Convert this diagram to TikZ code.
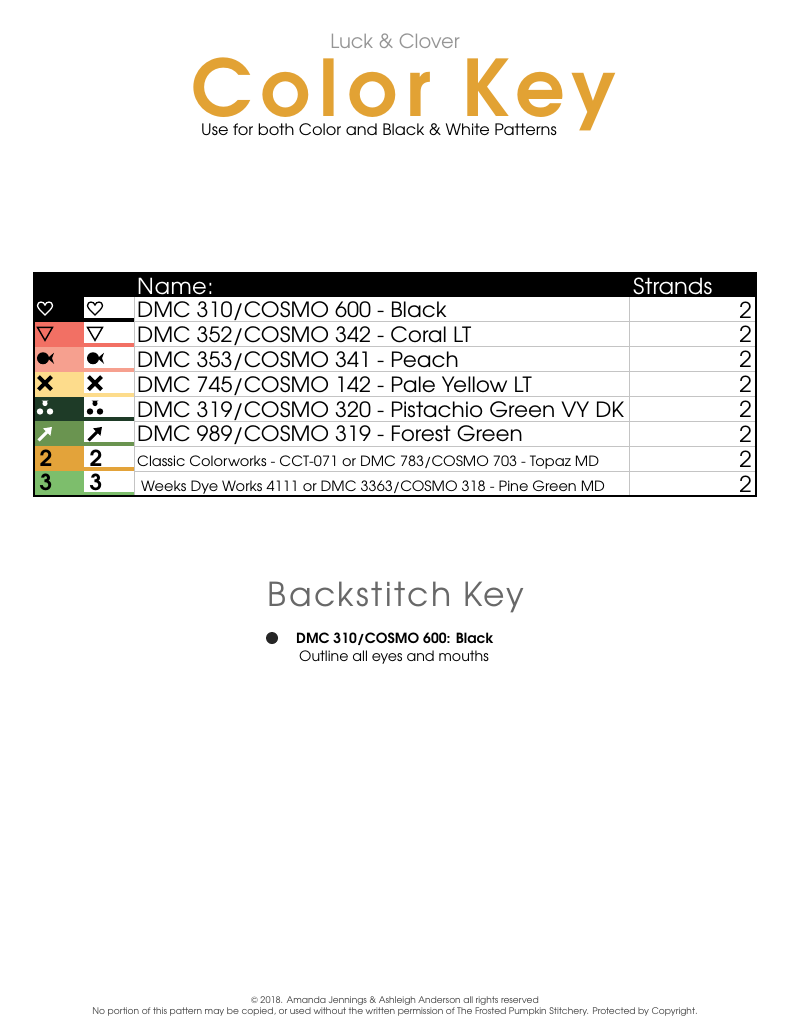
\documentclass[tikz,border=0pt]{standalone}
\usepackage{fontspec}
\setmainfont{TeX Gyre Adventor}
\newfontfamily\keyfont{TeX Gyre Adventor}[FakeStretch=1.03]
\usetikzlibrary{arrows.meta,positioning}
\definecolor{keygold}{HTML}{E2A234}
\definecolor{coral}{HTML}{F27064}
\definecolor{peach}{HTML}{F6A08F}
\definecolor{paleyellow}{HTML}{FDDC8C}
\definecolor{pistachio}{HTML}{1E3B27}
\definecolor{forest}{HTML}{6A9450}
\definecolor{topaz}{HTML}{E3A33A}
\definecolor{pine}{HTML}{7DBE6C}
\definecolor{gridgray}{HTML}{C4C4C4}
\definecolor{softgray}{HTML}{7A7A7A}
\tikzset{gridline/.style={gridgray,line width=0.8pt}}
\tikzset{nametext/.style={anchor=base west,inner sep=0pt,font=\keyfont\fontsize{21}{21}\selectfont}}
\tikzset{smalltext/.style={font=\keyfont\fontsize{14.1}{15}\selectfont}}
\tikzset{strandtext/.style={anchor=base east,inner sep=0pt,font=\keyfont\fontsize{22}{22}\selectfont}}
\tikzset{headtext/.style={anchor=base west,inner sep=0pt,text=white,font=\keyfont\fontsize{22}{22}\selectfont}}
\tikzset{digit/.style={inner sep=0pt,font=\keyfont\fontsize{22}{22}\bfseries\selectfont}}
% symbols: x, y, ink, name
\newcommand\symheart[4]{\draw[#3,line width=1.3pt,shift={(#1,#2)}]
  (0,6.5) .. controls (-4,2.5) and (-7.5,-0.5) .. (-7.5,-3) .. controls (-7.5,-7.5) and (-1,-7.5) .. (0,-3.5)
  .. controls (1,-7.5) and (7.5,-7.5) .. (7.5,-3) .. controls (7.5,-0.5) and (4,2.5) .. (0,6.5) -- cycle;}
\newcommand\symtri[4]{\draw[#3,line width=1.4pt,shift={(#1,#2)}] (-7.5,-6) -- (7.5,-6) -- (0,7) -- cycle;}
\newcommand\symfish[4]{\fill[#3,shift={(#1,#2)}] (-2,0) circle (6) (2.5,0) -- (9,-5.5) -- (7,0) -- (9,5.5) -- cycle;}
\newcommand\symcross[4]{\draw[#3,line width=4pt,shift={(#1,#2)}] (-6.5,-6.5) -- (6.5,6.5) (-6.5,6.5) -- (6.5,-6.5);}
\newcommand\symtrefoil[4]{\fill[#3,shift={(#1,#2)}] (0,-5) -- (-3.5,-7.5) -- (3.5,-7.5) -- cycle (0,-4.5) circle (2.6)
  (-5,3.5) circle (3.2) (5,3.5) circle (3.2);}
\newcommand\symarrow[4]{\draw[#3,line width=3pt,-{Triangle[length=7.5pt,width=10pt]},shift={(#1,#2)}] (-6.5,7.5) -- (7,-6);}
\newcommand\symtwo[4]{\node[digit,text=#3] (#4) at (#1+1,#2) {2};}
\newcommand\symthree[4]{\node[digit,text=#3] (#4) at (#1+1,#2) {3};}
% one row of the key: top, colour, symbol, col-1 ink, name, id, text style
\newcommand\keyrow[7]{
  \fill[#2] (34,#1) rectangle (84,#1+24.875);
  \fill[#2] (84,#1+20.9) rectangle (134,#1+24.875);
  \draw[gridline] (134,#1+24.875) -- (756,#1+24.875);
  #3{45}{#1+11.5}{#4}{swatch#6}
  #3{95}{#1+11.5}{black}{mark#6}
  \node[nametext,#7] (name#6) at (137,#1+20.5) {#5};
  \node[strandtext] (strands#6) at (752,#1+21) {2};
}

\begin{document}
\begin{tikzpicture}[x=1pt,y=-1pt]
  \useasboundingbox[fill=white] (0,0) rectangle (786,1024);
  % title
  \node[anchor=base,text=softgray!80,font=\fontsize{19.5}{19.5}\selectfont] (luck) at (395,49) {Luck \& Clover};
  \node[anchor=base,text=keygold,font=\fontsize{78}{78}\bfseries\selectfont\addfontfeatures{LetterSpace=11.5}] (title) at (404,117) {Color Key};
  \node[anchor=base,font=\keyfont\fontsize{15.7}{15.7}\selectfont] (usefor) at (379,136) {Use for both Color and Black \& White Patterns};
  % color key table
  \fill[black] (34,273) rectangle (756,297);
  \node[headtext,font=\keyfont\fontsize{22}{22}\selectfont\addfontfeatures{LetterSpace=2}] (namehead) at (137,294.5) {Name:};
  \node[headtext] (strandhead) at (633,294.5) {Strands};
  \keyrow{297}{black}{\symheart}{white}{DMC 310/COSMO 600 - Black}{1}{}
  \keyrow{321.875}{coral}{\symtri}{black}{DMC 352/COSMO 342 - Coral LT}{2}{}
  \keyrow{346.75}{peach}{\symfish}{black}{DMC 353/COSMO 341 - Peach}{3}{}
  \keyrow{371.625}{paleyellow}{\symcross}{black}{DMC 745/COSMO 142 - Pale Yellow LT}{4}{}
  \keyrow{396.5}{pistachio}{\symtrefoil}{white}{DMC 319/COSMO 320 - Pistachio Green VY DK}{5}{}
  \keyrow{421.375}{forest}{\symarrow}{white}{DMC 989/COSMO 319 - Forest Green}{6}{}
  \keyrow{446.25}{topaz}{\symtwo}{black}{Classic Colorworks - CCT-071 or DMC 783/COSMO 703 - Topaz MD}{7}{smalltext}
  \keyrow{471.125}{pine}{\symthree}{black}{\hspace{4pt}Weeks Dye Works 4111 or DMC 3363/COSMO 318 - Pine Green MD}{8}{smalltext}
  \draw[gridline] (134,297) -- (134,496) (629,297) -- (629,496);
  \draw[line width=2.5pt] (34,273) rectangle (756,496);
  % backstitch key
  \node[anchor=base,text=softgray!85!black,font=\fontsize{33}{33}\selectfont\addfontfeatures{LetterSpace=7}] (backhead) at (396,606) {Backstitch Key};
  \fill[black!85] (272,638) circle (6);
  \node[anchor=base west,inner sep=0pt,font=\fontsize{14}{14}\bfseries\selectfont] (backname) at (296,643) {DMC 310/COSMO 600: Black};
  \node[anchor=base west,inner sep=0pt,font=\fontsize{14.2}{14.2}\selectfont] (backnote) at (299,661) {Outline all eyes and mouths};
  % footer
  \node[anchor=base,text=black!75,font=\fontsize{9.1}{9.5}\selectfont] (copy) at (395,1003) {\textcopyright\ 2018. Amanda Jennings \& Ashleigh Anderson all rights reserved};
  \node[anchor=base,text=black!75,font=\fontsize{9.1}{9.5}\selectfont] (notice) at (395,1014) {No portion of this pattern may be copied, or used without the written permission of The Frosted Pumpkin Stitchery. Protected by Copyright.};
\end{tikzpicture}
\end{document}
